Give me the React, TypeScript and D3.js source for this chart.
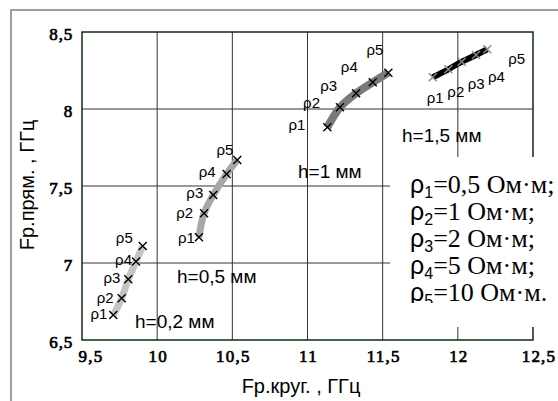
import React from 'react'
import * as d3 from 'd3'

// Fр.круг. (x) and Fр.прям. (y), ГГц, for ρ1..ρ5 at each thickness h
const hLabels = ['h=0,2 мм', 'h=0,5 мм', 'h=1 мм', 'h=1,5 мм']
const rhoNames = ['ρ1', 'ρ2', 'ρ3', 'ρ4', 'ρ5']
const fCircH02 = [9.708, 9.764, 9.808, 9.859, 9.904]
const fStrH02 = [6.662, 6.771, 6.894, 7.009, 7.11]
const fCircH05 = [10.278, 10.312, 10.373, 10.462, 10.533]
const fStrH05 = [7.167, 7.323, 7.442, 7.578, 7.669]
const fCircH1 = [11.132, 11.216, 11.323, 11.434, 11.538]
const fStrH1 = [7.881, 8.011, 8.102, 8.173, 8.236]
const fCircH15 = [11.833, 11.937, 12.026, 12.121, 12.196]
const fStrH15 = [8.206, 8.258, 8.307, 8.351, 8.388]

const xTicks = [9.5, 10, 10.5, 11, 11.5, 12, 12.5]
const yTicks = [6.5, 7, 7.5, 8, 8.5]
const legendSub = ['1', '2', '3', '4', '5']
const legendVals = ['0,5', '1', '2', '5', '10']

const W = 558
const H = 401
const plot = { left: 82, right: 533, top: 32, bottom: 340 }

const x = d3.scaleLinear().domain([9.5, 12.5]).range([plot.left, plot.right])
const y = d3.scaleLinear().domain([6.5, 8.5]).range([plot.bottom, plot.top])
const fmt = (v: number) => String(v).replace('.', ',')

const sans = 'Liberation Sans, Arial, sans-serif'
const serif = 'Liberation Serif, Times New Roman, serif'

const seriesStyle = [
  { line: '#c4c4c4', width: 7, marker: '#000', anchor: 'end',
    nudge: [[-6, 4], [-8, 5], [-8, 4], [-4, 3], [-10, -3]] },
  { line: '#a8a8a8', width: 7, marker: '#000', anchor: 'end',
    nudge: [[-4, 6], [-11, 5], [-10, 3], [-11, 3], [-4, -5]] },
  { line: '#7a7a7a', width: 8, marker: '#000', anchor: 'end',
    nudge: [[-22, 3], [-20, 1], [-19, -2], [-15, -10], [-5, -18]] },
  { line: '#000', width: 6, marker: '#8c8c8c', anchor: 'start',
    nudge: [[-6, 26], [-1, 28], [6, 27], [12, 27], [21, 15]] },
]
const hLabelPos = [
  { x: 135, y: 328 },
  { x: 177, y: 283 },
  { x: 298, y: 178 },
  { x: 402, y: 142 },
]

const series = [
  { xs: fCircH02, ys: fStrH02 },
  { xs: fCircH05, ys: fStrH05 },
  { xs: fCircH1, ys: fStrH1 },
  { xs: fCircH15, ys: fStrH15 },
]

const line = d3.line<[number, number]>()
  .x(d => x(d[0]))
  .y(d => y(d[1]))
  .curve(d3.curveCatmullRom)

// bold serif faked with a thin stroke so the face stays serif
const tickText = { fontFamily: serif, fontSize: 17, stroke: '#000', strokeWidth: 0.7 }

export default function App() {
  return (
    <svg width={W} height={H} style={{ position: 'absolute', left: 0, top: 0, background: '#fff' }}>
      <defs>
        <clipPath id="legclip">
          <rect x={390} y={157} width={170} height={146} />
        </clipPath>
      </defs>
      {/* outer frame */}
      <rect x={11} y={10} width={600} height={420} fill="none" stroke="#7f7f7f" strokeWidth={1.5} />

      {/* grid */}
      {xTicks.slice(1, -1).map(t => (
        <line key={'gx' + t} x1={x(t)} x2={x(t)} y1={plot.top} y2={plot.bottom} stroke="#333" strokeWidth={1} />
      ))}
      {yTicks.slice(1, -1).map(t => (
        <line key={'gy' + t} x1={plot.left} x2={plot.right} y1={y(t)} y2={y(t)} stroke="#333" strokeWidth={1} />
      ))}
      <rect x={plot.left} y={plot.top} width={plot.right - plot.left} height={plot.bottom - plot.top}
        fill="none" stroke="#0d2e0d" strokeWidth={1.5} />

      {/* tick labels */}
      {xTicks.map((t, i) => (
        <text key={'xt' + t} x={x(t) + (i === 0 ? 9 : i === xTicks.length - 1 ? 6 : 1)} y={362}
          textAnchor="middle" letterSpacing={1.2} {...tickText}>
          {fmt(t)}
        </text>
      ))}
      {yTicks.map(t => (
        <text key={'yt' + t} x={73} y={y(t) + 8} textAnchor="end" letterSpacing={0.8} {...tickText}>
          {fmt(t)}
        </text>
      ))}

      {/* axis titles */}
      <text x={301} y={393} textAnchor="middle" fontFamily={sans} fontSize={20}>Fр.круг. , ГГц</text>
      <text transform="translate(34,185) rotate(-90)" textAnchor="middle" fontFamily={sans} fontSize={20}>
        Fр.прям. , ГГц
      </text>

      {/* series */}
      {series.map((s, si) => {
        const st = seriesStyle[si]
        const pts = s.xs.map((v, i) => [v, s.ys[i]] as [number, number])
        return (
          <g key={'s' + si}>
            <path d={line(pts) || ''} fill="none" stroke={st.line} strokeWidth={st.width} strokeLinecap="butt" />
            {pts.map((p, i) => {
              const cx = x(p[0])
              const cy = y(p[1])
              return (
                <g key={i}>
                  <path d={`M${cx - 4},${cy - 4}L${cx + 4},${cy + 4}M${cx - 4},${cy + 4}L${cx + 4},${cy - 4}`}
                    stroke={st.marker} strokeWidth={1.4} />
                  <text x={cx + st.nudge[i][0]} y={cy + st.nudge[i][1]} textAnchor={st.anchor}
                    fontFamily={sans} fontSize={15}>{rhoNames[i]}</text>
                </g>
              )
            })}
            <text x={hLabelPos[si].x} y={hLabelPos[si].y} fontFamily={sans} fontSize={19}>{hLabels[si]}</text>
          </g>
        )
      })}

      {/* legend */}
      <rect x={390} y={157} width={170} height={170} fill="#fff" />
      <g clipPath="url(#legclip)">
        {legendVals.map((v, i) => (
          <text key={'lg' + i} x={410} y={193 + i * 27} fontSize={26}>
            <tspan fontFamily={sans} fontSize={25}>ρ</tspan>
            <tspan fontFamily={sans} fontSize={16} dy={5}>{legendSub[i]}</tspan>
            <tspan fontFamily={serif} dy={-5}>{`=${v} Ом·м${i === legendVals.length - 1 ? '.' : ';'}`}</tspan>
          </text>
        ))}
      </g>
    </svg>
  )
}
